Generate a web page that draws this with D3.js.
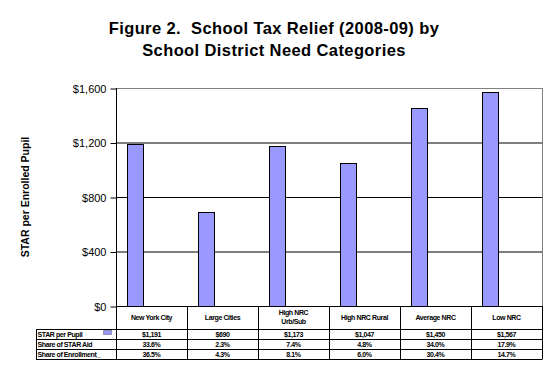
<!DOCTYPE html>
<html>
<head>
    <script src="https://d3js.org/d3.v7.min.js"></script>
    <style>
        body { margin: 0; background: #fff; }
        text { font-family: Arial, "Liberation Sans", sans-serif; }
    </style>
</head>
<body>
    <div id="chart"></div>
    <script>
        // data
        const categories = ["New York City", "Large Cities", "High NRC Urb/Sub", "High NRC Rural", "Average NRC", "Low NRC"];
        const headerLines = [["New York City"], ["Large Cities"], ["High NRC", "Urb/Sub"], ["High NRC Rural"], ["Average NRC"], ["Low NRC"]];
        const starPerPupil = [1191, 690, 1173, 1047, 1450, 1567];
        const shareStarAid = ["33.6%", "2.3%", "7.4%", "4.8%", "34.0%", "17.9%"];
        const shareEnrollment = ["36.5%", "4.3%", "8.1%", "6.0%", "30.4%", "14.7%"];
        const rowLabels = ["STAR per Pupil", "Share of STAR Aid", "Share of Enrollment_"];
        const yTicks = [0, 400, 800, 1200, 1600];

        function program() {
            const W = 552, H = 378;
            const pLeft = 116, pRight = 542, pTop = 88, pBottom = 306;
            const rowH = 10, headH = 23, tableLeft = 36;

            const svg = d3.select("#chart").append("svg")
                .attr("width", W).attr("height", H);

            // title
            const title = svg.append("text")
                .attr("text-anchor", "middle")
                .style("white-space", "pre")
                .style("font-size", "16.5px").style("font-weight", "bold")
                .style("letter-spacing", "0.4px");
            title.append("tspan").attr("x", 274).attr("y", 34).text("Figure 2.  School Tax Relief (2008-09) by");
            title.append("tspan").attr("x", 274).attr("y", 56).text("School District Need Categories");

            // scales
            const x = d3.scaleBand().domain(categories).range([pLeft, pRight]).padding(0);
            const y = d3.scaleLinear().domain([0, 1600]).range([pBottom, pTop]);

            // gridlines
            svg.append("g").selectAll("line")
                .data(yTicks.filter(d => d > 0))
                .join("line")
                .attr("x1", pLeft).attr("x2", pRight)
                .attr("y1", d => y(d) + 0.5).attr("y2", d => y(d) + 0.5)
                .attr("stroke", d => d === 1600 ? "#808080" : "#000")
                .attr("stroke-width", 1);

            // right border of plot
            svg.append("line")
                .attr("x1", pRight + 0.5).attr("x2", pRight + 0.5)
                .attr("y1", pTop).attr("y2", pBottom)
                .attr("stroke", "#808080");

            // bars
            const bw = x.bandwidth();
            svg.append("g").selectAll("rect")
                .data(categories)
                .join("rect")
                .attr("x", (d) => Math.round(x(d) + bw * 0.16) + 0.5)
                .attr("width", Math.round(bw * 0.225))
                .attr("y", (d, i) => Math.round(y(starPerPupil[i])) + 0.5)
                .attr("height", (d, i) => pBottom - Math.round(y(starPerPupil[i])))
                .attr("fill", "#9999ff")
                .attr("stroke", "#000").attr("stroke-width", 1);

            // y axis
            const yAxis = svg.append("g")
                .attr("transform", "translate(" + (pLeft + 0.5) + ",0.5)")
                .call(d3.axisLeft(y).tickValues(yTicks).tickSize(6).tickPadding(4)
                    .tickFormat(d => "$" + d3.format(",")(d)));
            yAxis.select(".domain").remove();
            yAxis.selectAll("line").attr("stroke", "#000");
            yAxis.selectAll("text").attr("dy", "0.35em")
                .style("font-size", "11px").style("font-family", "Arial, 'Liberation Sans', sans-serif");

            svg.append("text")
                .attr("transform", "translate(29," + ((pTop + pBottom) / 2) + ") rotate(-90)")
                .attr("text-anchor", "middle")
                .style("font-size", "10.5px").style("font-weight", "bold")
                .text("STAR per Enrolled Pupil");

            // table
            const tableBottom = pBottom + headH + rowH * 3;
            const t = svg.append("g");
            const bounds = categories.map(d => x(d)).concat([pRight]);
            t.selectAll("line.v")
                .data(bounds)
                .join("line")
                .attr("class", "v")
                .attr("x1", d => Math.round(d) + 0.5).attr("x2", d => Math.round(d) + 0.5)
                .attr("y1", (d, i) => i === 0 ? pTop : pBottom)
                .attr("y2", tableBottom + 0.5)
                .attr("stroke", "#000");
            t.append("line")
                .attr("x1", pLeft).attr("x2", pRight)
                .attr("y1", pBottom + 0.5).attr("y2", pBottom + 0.5)
                .attr("stroke", "#000");
            t.selectAll("line.h")
                .data([0, 1, 2, 3])
                .join("line")
                .attr("class", "h")
                .attr("x1", tableLeft).attr("x2", pRight)
                .attr("y1", d => pBottom + headH + d * rowH + 0.5)
                .attr("y2", d => pBottom + headH + d * rowH + 0.5)
                .attr("stroke", "#000");
            t.append("line")
                .attr("x1", tableLeft + 0.5).attr("x2", tableLeft + 0.5)
                .attr("y1", pBottom + headH).attr("y2", tableBottom + 0.5)
                .attr("stroke", "#000");

            const tfont = (sel) => sel.style("font-size", "7px").style("font-weight", "bold").style("letter-spacing", "-0.4px");

            // header labels
            headerLines.forEach((lines, i) => {
                const cx = x(categories[i]) + bw / 2;
                const y0 = lines.length === 1 ? 320 : 315;
                lines.forEach((ln, j) => {
                    svg.append("text")
                        .attr("x", cx).attr("y", y0 + j * 9)
                        .attr("text-anchor", "middle")
                        .call(tfont)
                        .text(ln);
                });
            });

            // row labels
            rowLabels.forEach((lab, r) => {
                svg.append("text")
                    .attr("x", tableLeft + 1.5)
                    .attr("y", pBottom + headH + r * rowH + 8)
                    .call(tfont)
                    .text(lab);
            });

            // legend key
            svg.append("rect")
                .attr("x", 103.5).attr("y", 330.5)
                .attr("width", 8).attr("height", 4)
                .attr("fill", "#9999ff")
                .attr("stroke", "#000").attr("stroke-width", 0.6).attr("stroke-dasharray", "1,1");

            // row values
            const rows = [starPerPupil.map(v => "$" + d3.format(",")(v)), shareStarAid, shareEnrollment];
            rows.forEach((vals, r) => {
                svg.append("g").selectAll("text")
                    .data(vals)
                    .join("text")
                    .attr("x", (d, i) => x(categories[i]) + bw / 2)
                    .attr("y", pBottom + headH + r * rowH + 8)
                    .attr("text-anchor", "middle")
                    .call(tfont)
                    .text(d => d);
            });
        }

        program();
    </script>
</body>
</html>
